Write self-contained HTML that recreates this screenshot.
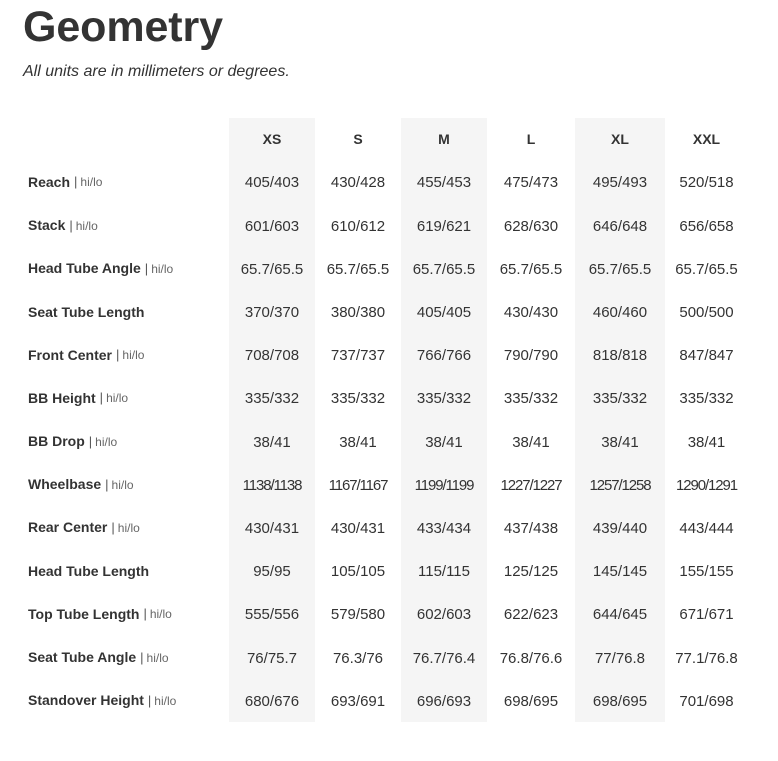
<!DOCTYPE html>
<html>
<head>
<meta charset="utf-8">
<style>
  html,body{margin:0;padding:0;background:#fff;}
  body{width:778px;height:761px;position:relative;overflow:hidden;font-family:"Liberation Sans",Arial,sans-serif;color:#333;}
  .title{position:absolute;left:23px;top:6px;font-size:43px;line-height:1;font-weight:bold;color:#333;letter-spacing:-0.1px;}
  .sub{position:absolute;left:23px;top:63.5px;font-size:16px;line-height:1;font-style:italic;color:#333;}
  .grid{position:absolute;left:23px;top:118px;display:grid;
    grid-template-columns:206px 86px 86px 86px 88px 90px 83px;
    grid-template-rows:42.4px repeat(13,43.2px);}
  .grid div{display:flex;align-items:center;justify-content:center;line-height:1;font-size:15px;color:#333;padding-top:2px;box-sizing:border-box;}
  .grid .h{font-weight:bold;font-size:14px;padding-top:0;}
  .grid .lab{justify-content:flex-start;padding-left:5px;padding-top:0;font-weight:bold;font-size:14px;}
  .grid .lab span{font-weight:normal;font-size:12px;color:#666;margin-left:4px;}
  .grid .lab span b{font-weight:normal;color:#555;font-size:13px;margin-right:3px;}
  .grid .n{letter-spacing:-1.1px;}
  .sh{background:#f5f5f5;}
</style>
</head>
<body>
<div class="title">Geometry</div>
<div class="sub">All units are in millimeters or degrees.</div>
<div class="grid">
  <div></div><div class="h sh">XS</div><div class="h">S</div><div class="h sh">M</div><div class="h">L</div><div class="h sh">XL</div><div class="h">XXL</div>

  <div class="lab">Reach<span><b>|</b>hi/lo</span></div><div class="sh">405/403</div><div>430/428</div><div class="sh">455/453</div><div>475/473</div><div class="sh">495/493</div><div>520/518</div>

  <div class="lab">Stack<span><b>|</b>hi/lo</span></div><div class="sh">601/603</div><div>610/612</div><div class="sh">619/621</div><div>628/630</div><div class="sh">646/648</div><div>656/658</div>

  <div class="lab">Head Tube Angle<span><b>|</b>hi/lo</span></div><div class="sh">65.7/65.5</div><div>65.7/65.5</div><div class="sh">65.7/65.5</div><div>65.7/65.5</div><div class="sh">65.7/65.5</div><div>65.7/65.5</div>

  <div class="lab">Seat Tube Length</div><div class="sh">370/370</div><div>380/380</div><div class="sh">405/405</div><div>430/430</div><div class="sh">460/460</div><div>500/500</div>

  <div class="lab">Front Center<span><b>|</b>hi/lo</span></div><div class="sh">708/708</div><div>737/737</div><div class="sh">766/766</div><div>790/790</div><div class="sh">818/818</div><div>847/847</div>

  <div class="lab">BB Height<span><b>|</b>hi/lo</span></div><div class="sh">335/332</div><div>335/332</div><div class="sh">335/332</div><div>335/332</div><div class="sh">335/332</div><div>335/332</div>

  <div class="lab">BB Drop<span><b>|</b>hi/lo</span></div><div class="sh">38/41</div><div>38/41</div><div class="sh">38/41</div><div>38/41</div><div class="sh">38/41</div><div>38/41</div>

  <div class="lab">Wheelbase<span><b>|</b>hi/lo</span></div><div class="sh n">1138/1138</div><div class="n">1167/1167</div><div class="sh n">1199/1199</div><div class="n">1227/1227</div><div class="sh n">1257/1258</div><div class="n">1290/1291</div>

  <div class="lab">Rear Center<span><b>|</b>hi/lo</span></div><div class="sh">430/431</div><div>430/431</div><div class="sh">433/434</div><div>437/438</div><div class="sh">439/440</div><div>443/444</div>

  <div class="lab">Head Tube Length</div><div class="sh">95/95</div><div>105/105</div><div class="sh">115/115</div><div>125/125</div><div class="sh">145/145</div><div>155/155</div>

  <div class="lab">Top Tube Length<span><b>|</b>hi/lo</span></div><div class="sh">555/556</div><div>579/580</div><div class="sh">602/603</div><div>622/623</div><div class="sh">644/645</div><div>671/671</div>

  <div class="lab">Seat Tube Angle<span><b>|</b>hi/lo</span></div><div class="sh">76/75.7</div><div>76.3/76</div><div class="sh">76.7/76.4</div><div>76.8/76.6</div><div class="sh">77/76.8</div><div>77.1/76.8</div>

  <div class="lab">Standover Height<span><b>|</b>hi/lo</span></div><div class="sh">680/676</div><div>693/691</div><div class="sh">696/693</div><div>698/695</div><div class="sh">698/695</div><div>701/698</div>
</div>
</body>
</html>
